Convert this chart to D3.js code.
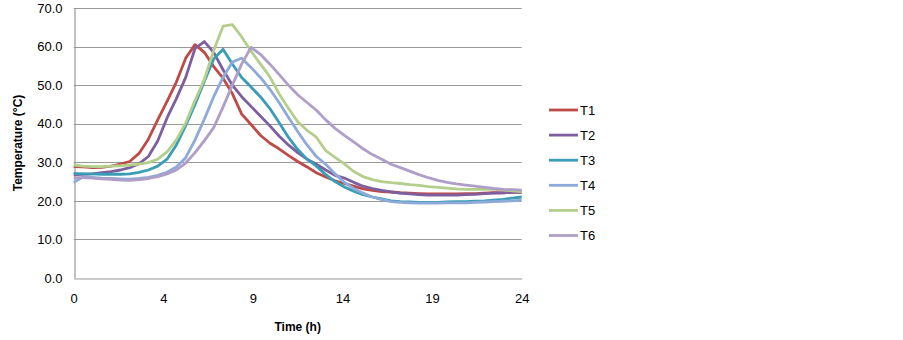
<!DOCTYPE html>
<html>
<head>
<meta charset="utf-8">
<script src="https://cdn.jsdelivr.net/npm/d3@7"></script>
<style>
  body { margin: 0; background: #fff; }
  svg text { font-family: "Liberation Sans", Arial, sans-serif; fill: #000; }
</style>
</head>
<body>
<svg id="chart"></svg>
<script>
// Chart data (hours / deg C)
var hours = [0, 0.5, 1, 1.5, 2, 2.5, 3, 3.5, 4, 4.5, 5, 5.5, 6, 6.5, 7, 7.5, 8, 8.5, 9, 9.5,
             10, 10.5, 11, 11.5, 12, 12.5, 13, 13.5, 14, 14.5, 15, 15.5, 16, 16.5, 17, 17.5,
             18, 18.5, 19, 19.5, 20, 20.5, 21, 21.5, 22, 22.5, 23, 23.5, 24];

var seriesNames = ["T1", "T2", "T3", "T4", "T5", "T6"];

var t1 = [28.9, 28.8, 28.6, 28.7, 29.0, 29.5, 30.2, 32.3, 36.0, 41.0, 45.8, 50.8, 57.0, 60.5, 58.5, 54.8,
          51.8, 47.8, 42.5, 39.8, 37.0, 35.0, 33.5, 31.8, 30.2, 28.8, 27.3, 26.2, 25.2, 24.5, 23.8, 23.1,
          22.7, 22.4, 22.3, 22.1, 22.0, 21.9, 21.8, 21.8, 21.8, 21.8, 21.9, 21.9, 22.0, 22.1, 22.1, 22.2, 22.2];
var t2 = [26.8, 26.9, 27.0, 27.3, 27.6, 28.0, 28.6, 29.6, 31.5, 35.5, 41.5, 46.5, 52.0, 59.5, 61.3, 58.5,
          54.0, 50.0, 47.0, 44.5, 42.0, 39.5, 36.8, 34.5, 32.5, 30.8, 29.5, 28.0, 26.6, 25.9, 24.8, 23.8,
          23.2, 22.7, 22.3, 22.0, 21.8, 21.6, 21.5, 21.5, 21.5, 21.5, 21.6, 21.7, 21.9, 22.0, 22.1, 22.2, 22.3];
var t3 = [27.1, 27.0, 27.0, 26.9, 26.9, 26.9, 27.0, 27.4, 28.0, 29.0, 30.8, 34.5, 39.5, 45.0, 51.0, 56.8,
          59.3, 55.5, 52.0, 49.5, 47.0, 44.0, 40.3, 36.5, 33.3, 30.8, 29.0, 26.8, 25.0, 23.6, 22.5, 21.6,
          21.0, 20.5, 20.0, 19.8, 19.7, 19.6, 19.6, 19.6, 19.7, 19.8, 19.8, 19.9, 20.0, 20.2, 20.4, 20.7, 21.0];
var t4 = [24.8, 26.2, 26.1, 25.9, 25.8, 25.7, 25.6, 25.8, 26.1, 26.6, 27.4, 28.8, 31.2, 35.8, 41.2, 47.0,
          52.0, 56.0, 57.0, 54.6, 52.0, 49.0, 45.5, 41.7, 38.0, 34.5, 31.5, 29.5, 27.0, 24.8, 23.2, 22.0,
          21.0, 20.3, 19.8, 19.6, 19.5, 19.4, 19.4, 19.4, 19.5, 19.5, 19.5, 19.6, 19.7, 19.8, 19.9, 20.0, 20.2];
var t5 = [29.3, 29.0, 28.9, 28.9, 29.0, 29.1, 29.3, 29.5, 29.9, 30.8, 32.7, 35.8, 40.2, 46.0, 51.5, 59.0,
          65.3, 65.7, 62.5, 58.8, 55.5, 52.2, 47.8, 44.0, 40.5, 38.3, 36.5, 33.0, 31.3, 29.6, 27.6, 26.3,
          25.5, 25.0, 24.7, 24.5, 24.2, 24.0, 23.7, 23.5, 23.3, 23.1, 23.0, 23.0, 23.0, 23.0, 22.8, 22.6, 22.4];
var t6 = [26.0, 26.0, 25.9, 25.7, 25.6, 25.4, 25.3, 25.5, 25.8, 26.3, 27.0, 28.0, 29.8, 32.5, 35.6, 39.0,
          44.3, 50.0, 55.5, 59.8, 58.0, 55.5, 52.8, 50.0, 47.5, 45.5, 43.5, 41.0, 38.8, 37.0, 35.3, 33.5,
          32.0, 30.8, 29.5, 28.6, 27.7, 26.8, 26.0, 25.3, 24.8, 24.4, 24.1, 23.8, 23.5, 23.2, 23.0, 22.9, 22.8];

var xTickValues = [0, 4.8, 9.6, 14.4, 19.2, 24];
var xTickLabels = ["0", "4", "9", "14", "19", "24"];
var yTickValues = [0, 10, 20, 30, 40, 50, 60, 70];

var colors = ["#BE4B48", "#7D5FA0", "#3A9DB6", "#8EAAD8", "#B4CF8C", "#AE9EC8"];

// Set up SVG size
var width = 903, height = 340;
var margin = {left: 73.7, right: 903 - 521.7, top: 8, bottom: 340 - 278};

var svg = d3.select("#chart")
    .attr("width", width)
    .attr("height", height);

var x = d3.scaleLinear().domain([0, 24]).range([margin.left, width - margin.right]);
var y = d3.scaleLinear().domain([0, 70]).range([height - margin.bottom, margin.top]);

// Gridlines
svg.append("g")
    .selectAll("line")
    .data(yTickValues.slice(1))
    .enter().append("line")
        .attr("x1", x(0))
        .attr("x2", x(24))
        .attr("y1", function(d) { return Math.round(y(d)) + 0.5; })
        .attr("y2", function(d) { return Math.round(y(d)) + 0.5; })
        .style("stroke", "#989898")
        .style("stroke-width", 1.2);

// Y axis
var yAxis = svg.append("g")
    .attr("transform", "translate(" + (Math.round(x(0)) + 0.5) + ",0)")
    .call(d3.axisLeft(y).tickValues(yTickValues).tickSize(0).tickPadding(12)
        .tickFormat(d3.format(".1f")));
yAxis.select(".domain").style("stroke", "#989898").style("stroke-width", 1.2);
yAxis.selectAll("text").style("font-size", "13px");

// X axis
var xAxis = svg.append("g")
    .attr("transform", "translate(0," + (Math.round(y(0)) + 0.5) + ")")
    .call(d3.axisBottom(x).tickValues(xTickValues).tickSize(0).tickPadding(15)
        .tickFormat(function(d, i) { return xTickLabels[i]; }));
xAxis.select(".domain").style("stroke", "#989898").style("stroke-width", 1.2);
xAxis.selectAll("text").style("font-size", "13px");

// Axis titles
svg.append("text")
    .attr("transform", "translate(22," + y(35) + ") rotate(-90)")
    .attr("text-anchor", "middle")
    .style("font-size", "12px")
    .style("font-weight", "bold")
    .text("Temperature (°C)");

svg.append("text")
    .attr("x", (x(0) + x(24)) / 2)
    .attr("y", 331)
    .attr("text-anchor", "middle")
    .style("font-size", "12px")
    .style("font-weight", "bold")
    .text("Time (h)");

// Lines
var allSeries = [t1, t2, t3, t4, t5, t6];
var line = d3.line()
    .x(function(d, i) { return x(hours[i]); })
    .y(function(d) { return y(d); });

svg.append("g")
    .selectAll("path")
    .data(allSeries)
    .enter().append("path")
        .attr("d", line)
        .attr("fill", "none")
        .style("stroke", function(d, i) { return colors[i]; })
        .style("stroke-width", 2.8)
        .style("stroke-linejoin", "round");

// Legend
var legend = svg.append("g")
    .selectAll("g")
    .data(seriesNames)
    .enter().append("g")
        .attr("transform", function(d, i) { return "translate(549," + (110 + i * 25.1) + ")"; });

legend.append("line")
    .attr("x1", 0)
    .attr("x2", 29)
    .style("stroke", function(d, i) { return colors[i]; })
    .style("stroke-width", 2.8);

legend.append("text")
    .attr("x", 31)
    .attr("dy", "0.35em")
    .style("font-size", "13px")
    .text(function(d) { return d; });
</script>
</body>
</html>
